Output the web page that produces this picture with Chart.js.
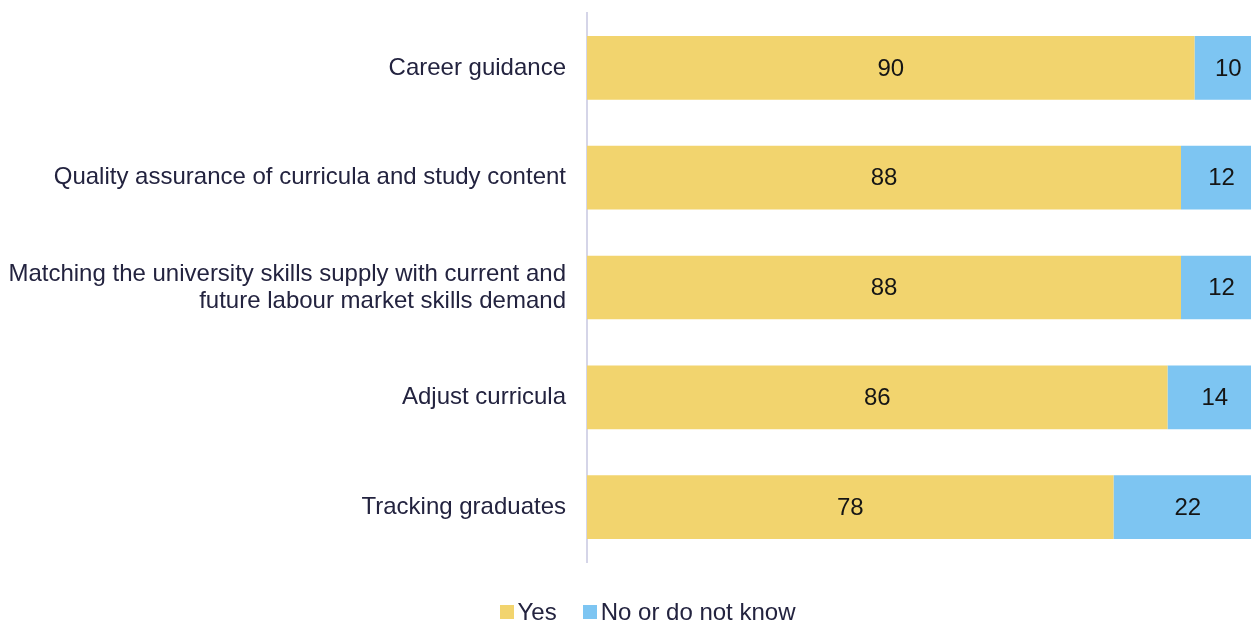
<!DOCTYPE html>
<html>
<head>
<meta charset="utf-8">
<script src="https://cdn.jsdelivr.net/npm/chart.js@4"></script>
<style>
  html, body { margin: 0; padding: 0; background: #fff; overflow: hidden; }
  #wrap { position: relative; width: 1295px; height: 622px; }
  #legend {
    position: absolute; left: 0; right: 0; top: 597px; height: 30px;
    display: flex; justify-content: center; align-items: center;
    font: 24px "Liberation Sans", Arial, sans-serif; color: #23233F;
  }
  #legend .item { display: flex; align-items: center; margin: 0 13px; }
  #legend .box { width: 14px; height: 14px; margin-right: 4px; }
</style>
</head>
<body>
<div id="wrap">
  <canvas id="myChart"></canvas>
  <div id="legend"></div>
</div>
<script>
let categories = [
  'Career guidance',
  'Quality assurance of curricula and study content',
  ['Matching the university skills supply with current and', 'future labour market skills demand'],
  'Adjust curricula',
  'Tracking graduates'
];
let yesValues = [90, 88, 88, 86, 78];
let noValues = [10, 12, 12, 14, 22];
let seriesNames = ['Yes', 'No or do not know'];
let colorHex = ['#F2D46E', '#7DC5F2'];
let textColor = '#23233F';
let fontFamily = '"Liberation Sans", Arial, sans-serif';

// writes each segment's value in the middle of its bar
let barValues = {
  id: 'barValues',
  afterDatasetsDraw(chart) {
    let c = chart.ctx;
    c.save();
    c.font = '24px ' + fontFamily;
    c.fillStyle = '#151515';
    c.textAlign = 'center';
    c.textBaseline = 'middle';
    chart.data.datasets.forEach((ds, i) => {
      chart.getDatasetMeta(i).data.forEach((bar, j) => {
        let mid = (bar.x + bar.base) / 2;
        c.fillText(ds.data[j], mid, bar.y + 1);
      });
    });
    c.restore();
  }
};

let ctx = document.getElementById('myChart').getContext('2d');
let myChart = new Chart(ctx, {
  type: 'bar',
  data: {
    labels: categories,
    datasets: [{
      label: seriesNames[0],
      data: yesValues,
      backgroundColor: colorHex[0],
      categoryPercentage: 0.58,
      barPercentage: 1
    }, {
      label: seriesNames[1],
      data: noValues,
      backgroundColor: colorHex[1],
      categoryPercentage: 0.58,
      barPercentage: 1
    }]
  },
  options: {
    indexAxis: 'y',
    responsive: true,
    maintainAspectRatio: false,
    animation: false,
    layout: {
      padding: { left: 8, right: 33, top: 13, bottom: 60 }
    },
    scales: {
      x: {
        stacked: true,
        min: 0,
        max: 100,
        display: false
      },
      y: {
        stacked: true,
        grid: { display: false, drawTicks: false },
        border: { display: true, color: '#D5D5E8', width: 2 },
        ticks: {
          color: textColor,
          padding: 21,
          font: { size: 24, family: fontFamily, lineHeight: 1.12 }
        },
        afterFit(scale) {
          scale.width = 579;
          scale.paddingTop = 0;
          scale.paddingBottom = 0;
        }
      }
    },
    plugins: {
      legend: { display: false },
      tooltip: { enabled: false }
    }
  },
  plugins: [barValues]
});

// legend below the chart, built from the datasets
let legendEl = document.getElementById('legend');
myChart.data.datasets.forEach((ds) => {
  let item = document.createElement('span');
  item.className = 'item';
  let box = document.createElement('span');
  box.className = 'box';
  box.style.background = ds.backgroundColor;
  item.appendChild(box);
  item.appendChild(document.createTextNode(ds.label));
  legendEl.appendChild(item);
});
</script>
</body>
</html>
